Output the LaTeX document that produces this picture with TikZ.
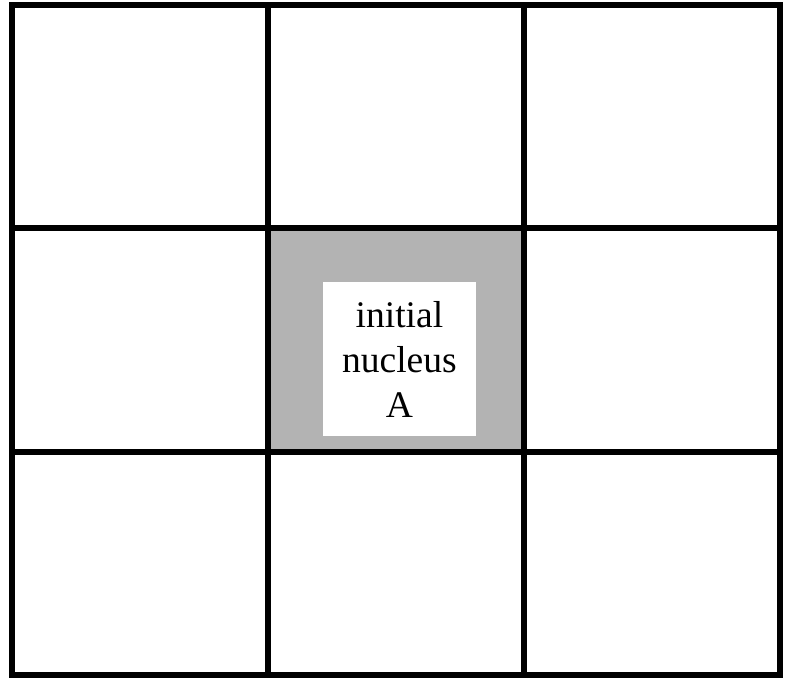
\documentclass[tikz,border=0pt]{standalone}
\usepackage{fontspec}
\setmainfont{Liberation Serif}
\definecolor{nucleusgray}{RGB}{179,179,179}

\begin{document}
\begin{tikzpicture}[x=0.025cm, y=-0.025cm]
    \useasboundingbox (0,0) rectangle (788,678);
    % The shaded middle cell.
        \fill[nucleusgray] (268,228) rectangle (524,452);
    % This draws the grid.
        \draw[black, line width=0.15cm] (12,4.5) rectangle (779.5,675);
        \draw[black, line width=0.15cm] (268,4.5) -- (268,675);
        \draw[black, line width=0.15cm] (524,4.5) -- (524,675);
        \draw[black, line width=0.15cm] (12,228) -- (779.5,228);
        \draw[black, line width=0.15cm] (12,452) -- (779.5,452);
    % Below node is the label.
        \node[fill=white, minimum width=3.83cm, minimum height=3.84cm, align=center,
              font=\fontsize{26.7}{32}\selectfont, inner sep=0pt] (nucleus) at (399.4,359) {initial\\nucleus\\A};
\end{tikzpicture}
\end{document}
